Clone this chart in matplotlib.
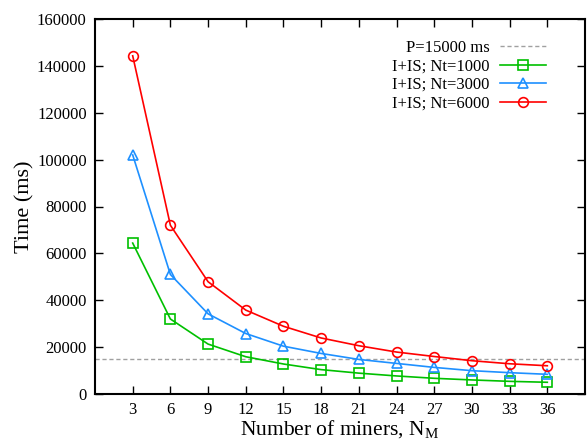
import matplotlib
matplotlib.use("Agg")
import matplotlib.pyplot as plt

miners = [3, 6, 9, 12, 15, 18, 21, 24, 27, 30, 33, 36]
nt1000 = [64400, 32000, 21300, 15900, 12800, 10400, 8900, 7700, 6700, 6000, 5400, 5000]
nt3000 = [102000, 51000, 34200, 25800, 20400, 17300, 14750, 13050, 11350, 9950, 9100, 8400]
nt6000 = [144300, 72000, 47900, 35800, 28900, 23900, 20600, 17900, 16000, 14200, 12900, 12050]
period = 15000
labels = ["P=15000 ms", "I+IS; Nt=1000", "I+IS; Nt=3000", "I+IS; Nt=6000"]

plt.rcParams['font.family'] = ['Liberation Serif', 'DejaVu Serif']
plt.rcParams['mathtext.fontset'] = 'custom'
plt.rcParams['mathtext.rm'] = 'Liberation Serif'

fig = plt.figure(figsize=(5.88, 4.42), dpi=100)
ax = fig.add_axes([95/588, 48/442, 490/588, 375/442])

green = '#00c000'
blue = '#1e90ff'
red = '#ff0000'

h0 = ax.axhline(period, color='#a0a0a0', lw=1.0, ls=(0, (3, 2)), zorder=1)
h1, = ax.plot(miners, nt1000, color=green, lw=1.2, marker='s', ms=7, mfc='none', mec=green, mew=1.2)
h2, = ax.plot(miners, nt3000, color=blue, lw=1.2, marker='^', ms=7.5, mfc='none', mec=blue, mew=1.2)
h3, = ax.plot(miners, nt6000, color=red, lw=1.2, marker='o', ms=7, mfc='none', mec=red, mew=1.2)

ax.set_xlim(0, 39)
ax.set_ylim(0, 160000)
ax.set_xticks(miners)
ax.set_yticks(range(0, 160001, 20000))
ax.tick_params(direction='in', length=6, width=1, top=True, right=True, labelsize=12, pad=6)
for s in ax.spines.values():
    s.set_linewidth(1.5)

ax.set_xlabel(r'Number of miners, N$_\mathregular{M}$', fontsize=15.5, labelpad=0)
ax.set_ylabel('Time (ms)', fontsize=16, labelpad=2)

leg = ax.legend([h0, h1, h2, h3], labels, loc='upper right', frameon=False, markerfirst=False,
                fontsize=12, handlelength=2.75, labelspacing=0.15, borderaxespad=0,
                bbox_to_anchor=(0.934, 0.962), handletextpad=0.65)

fig.savefig('out.png', dpi=100)
